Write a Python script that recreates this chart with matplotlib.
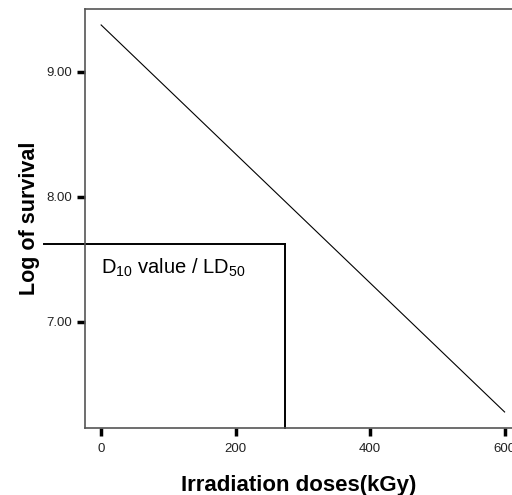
import matplotlib
matplotlib.use('Agg')
import matplotlib.pyplot as plt

plt.rcParams['font.family'] = ['Liberation Sans', 'DejaVu Sans']
plt.rcParams['mathtext.fontset'] = 'custom'
plt.rcParams['mathtext.rm'] = 'Liberation Sans'
plt.rcParams['mathtext.it'] = 'Liberation Sans'

# fitted survival line (dose in kGy, log of survival)
doses = [0, 600]
log_survival = [9.376, 6.28]

# D10 / LD50 marker
d10_dose = 273.6
d10_log = 7.626
marker_left = -85

xticks = [0, 200, 400, 600]
yticks = [7.0, 8.0, 9.0]

fig = plt.figure(figsize=(5.12, 4.95), dpi=100)
ax = fig.add_axes([0.166, 0.1354, 0.834, 0.8465])

ax.plot(doses, log_survival, color='black', linewidth=0.8)

# marker lines
ax.plot([marker_left, d10_dose], [d10_log, d10_log], color='black', linewidth=1.4, clip_on=False)
ax.plot([d10_dose, d10_dose], [d10_log, 6.152], color='black', linewidth=1.4, clip_on=False)
ax.text(0, 7.43, r'D$_{\mathrm{10}}$ value / LD$_{\mathrm{50}}$', fontsize=14.5, va='center', ha='left')

ax.set_xlim(-24, 611)
ax.set_ylim(6.152, 9.504)
ax.set_xticks(xticks)
ax.set_xticklabels([str(x) for x in xticks])
ax.set_yticks(yticks)
ax.set_yticklabels(['%.2f' % y for y in yticks])
ax.tick_params(axis='both', direction='out', length=6, width=2.5, color='black', labelsize=9.5, labelcolor='#222222')
ax.tick_params(axis='x', pad=5)
ax.tick_params(axis='y', pad=3)

ax.spines['right'].set_visible(False)
for s in ['left', 'top', 'bottom']:
    ax.spines[s].set_color('#555555')
    ax.spines[s].set_linewidth(1.2)

ax.set_xlabel('Irradiation doses(kGy)', fontsize=16, fontweight='bold', labelpad=14)
ax.set_ylabel('Log of survival', fontsize=15.5, fontweight='bold', labelpad=5)

fig.savefig('out.png', dpi=100)
